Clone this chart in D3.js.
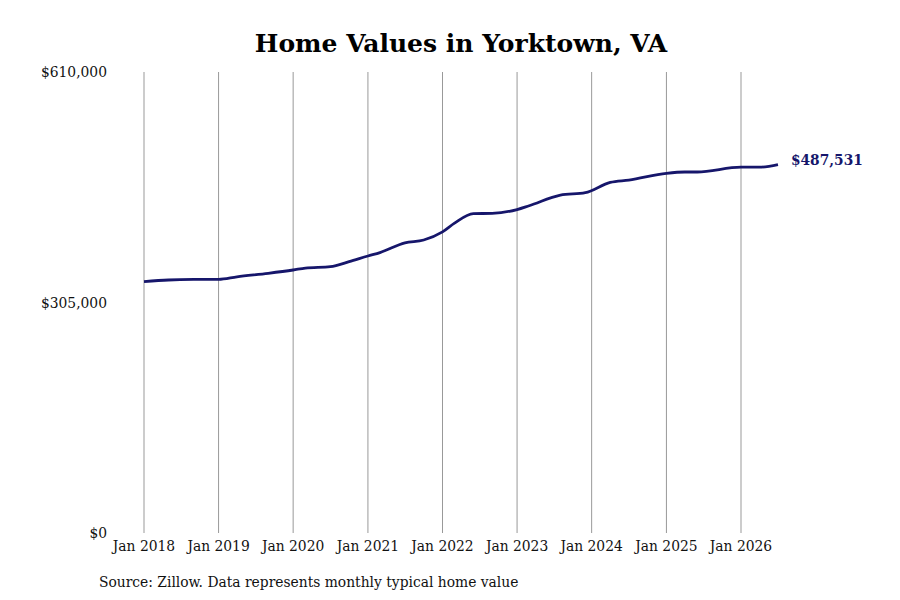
<!DOCTYPE html>
<html lang="en">
<head>
<meta charset="UTF-8">
<script src="https://d3js.org/d3.v7.min.js"></script>
<style>
body { margin: 0; background: #fff; }
svg text { font-family: "DejaVu Serif", serif; }
.tick-label { font-size: 15.4px; font-stretch: condensed; fill: #111; }
</style>
</head>
<body>
<svg width="900" height="600"></svg>
<script>
// values
const dates = ["2018-01","2018-05","2018-09","2019-01","2019-04","2019-09","2020-01","2020-03",
  "2020-07","2020-10","2021-01","2021-03","2021-07","2021-10","2022-01","2022-03","2022-06",
  "2022-09","2023-01","2023-03","2023-08","2023-12","2024-04","2024-07","2025-01","2025-04",
  "2025-06","2026-01","2026-04","2026-07"];
const values = [332600,334800,335500,335600,339000,343600,348000,350600,
  352400,359000,366500,371000,384000,387700,398500,410000,422500,
  423000,428000,433000,447000,450300,464000,467000,476000,477700,
  477700,484000,484000,487531];
const yTicks = [0, 305000, 610000];
const xTickYears = [2018,2019,2020,2021,2022,2023,2024,2025,2026];

const parse = d3.timeParse("%Y-%m");
const data = dates.map((d, i) => ({date: parse(d), value: values[i]}));

const svg = d3.select("svg");
const x = d3.scaleTime()
  .domain([new Date(2018,0,1), new Date(2026,0,1)])
  .range([144, 741]);
const y = d3.scaleLinear().domain([0, 610000]).range([533, 72]);

// title
svg.append("text")
  .attr("x", 461).attr("y", 52)
  .attr("text-anchor", "middle")
  .style("font-size", "25px").style("font-weight", "bold")
  .text("Home Values in Yorktown, VA");

// vertical grid lines
const xTicks = xTickYears.map(yr => new Date(yr,0,1));
svg.selectAll(".grid")
  .data(xTicks)
  .enter().append("line")
  .attr("class", "grid")
  .attr("x1", d => x(d)).attr("x2", d => x(d))
  .attr("y1", y(610000)).attr("y2", y(0))
  .attr("stroke", "#999").attr("stroke-width", 1);

// x labels
svg.selectAll(".xl")
  .data(xTicks)
  .enter().append("text")
  .attr("class", "tick-label")
  .attr("x", d => x(d)).attr("y", 551)
  .attr("text-anchor", "middle")
  .text(d => d3.timeFormat("Jan %Y")(d));

// y labels
svg.selectAll(".yl")
  .data(yTicks)
  .enter().append("text")
  .attr("class", "tick-label")
  .attr("x", 107).attr("y", d => y(d) + 5)
  .attr("text-anchor", "end")
  .text(d => "$" + d3.format(",")(d));

// line
const line = d3.line()
  .x(d => x(d.date)).y(d => y(d.value))
  .curve(d3.curveMonotoneX);
svg.append("path")
  .datum(data)
  .attr("fill", "none")
  .attr("stroke", "#16166b")
  .attr("stroke-width", 2.8)
  .attr("d", line);

// end label
const last = data[data.length - 1];
svg.append("text")
  .attr("x", x(last.date) + 13).attr("y", y(last.value) - 0)
  .style("font-size", "15.3px").style("font-weight", "bold")
  .style("font-stretch", "condensed")
  .attr("fill", "#16166b")
  .text("$" + d3.format(",")(last.value));

// source
svg.append("text")
  .attr("class", "tick-label")
  .attr("x", 99).attr("y", 587)
  .text("Source: Zillow. Data represents monthly typical home value");
</script>
</body>
</html>
